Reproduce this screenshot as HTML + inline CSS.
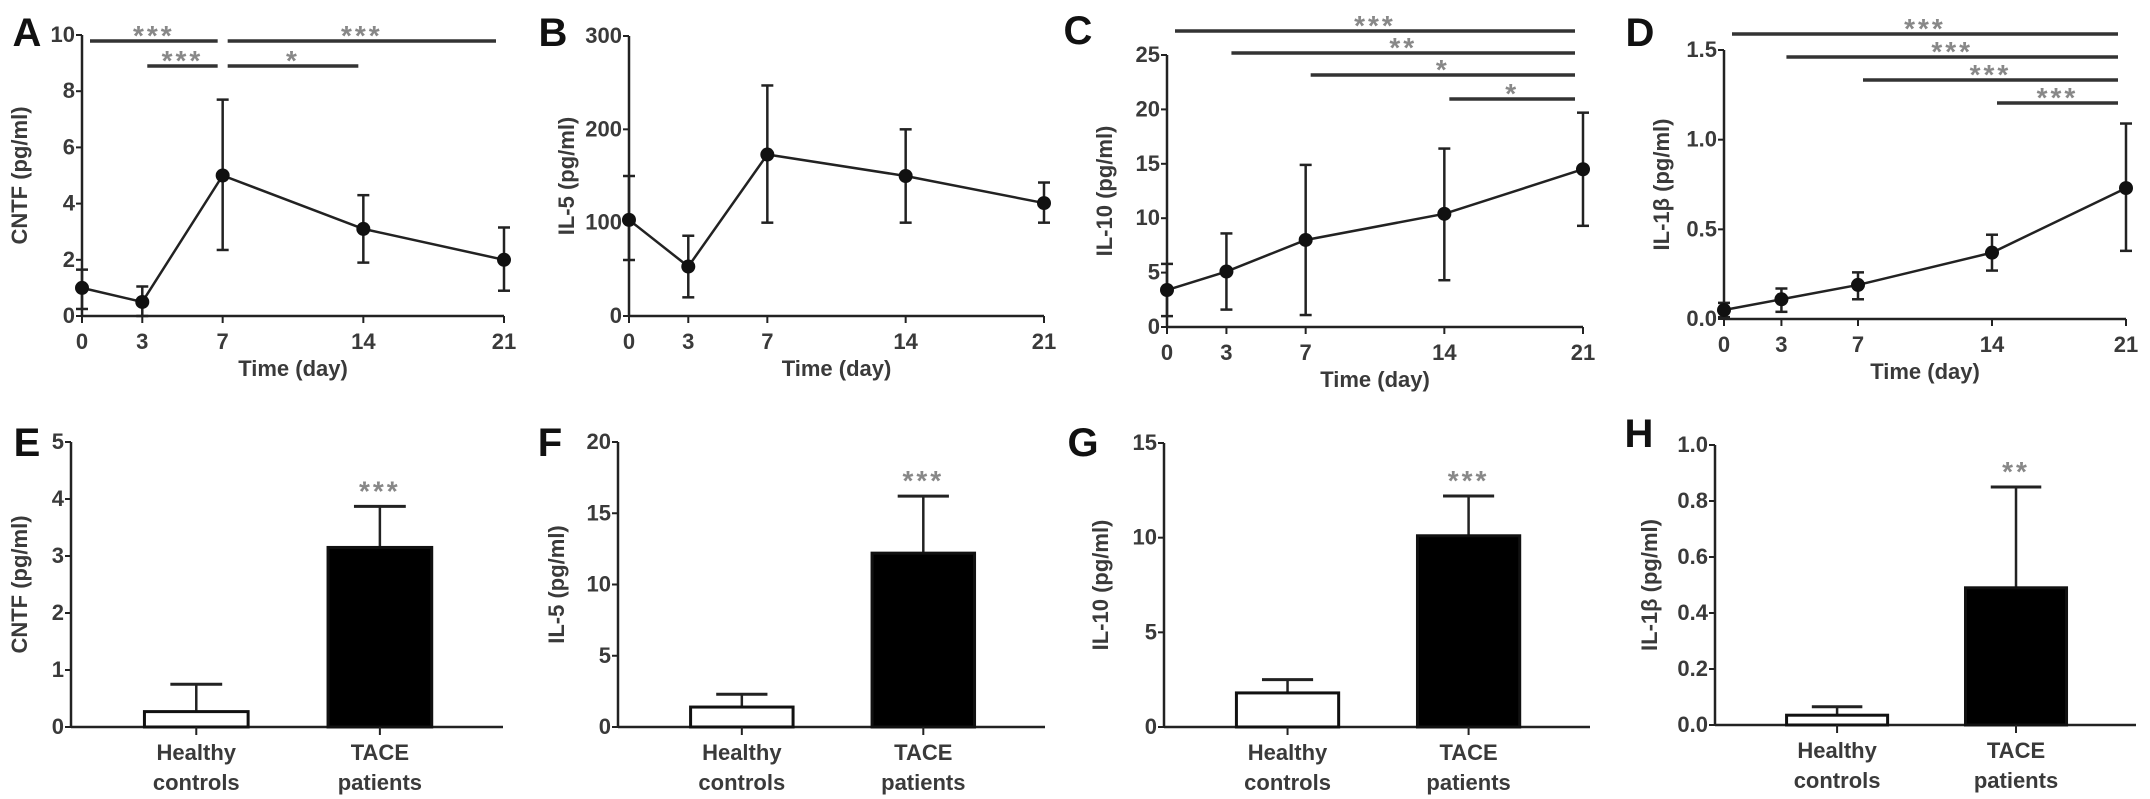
<!DOCTYPE html>
<html><head><meta charset="utf-8"><style>
body{margin:0;background:#fff}
svg{display:block}
text{font-family:"Liberation Sans",sans-serif}
.tk{font-size:22px;fill:#3a3a3a;font-weight:bold}
.tt{font-size:22px;fill:#3a3a3a;font-weight:bold}
.lt{font-size:40px;fill:#111;font-weight:bold}
.st{font-size:28px;fill:#888;font-weight:bold;letter-spacing:3px}
</style></head><body>
<svg id="fig" width="2150" height="799" viewBox="0 0 2150 799"></svg>
<script>
// ---- data ----
const days=[0,3,7,14,21];
const aMean=[1.0,0.5,5.0,3.1,2.0], aLo=[0.25,0.0,2.35,1.9,0.9], aHi=[1.65,1.05,7.7,4.3,3.15];
const bMean=[103,53,173,150,121], bLo=[60,20,100,100,100], bHi=[150,86,247,200,143];
const cMean=[3.4,5.1,8.0,10.4,14.5], cLo=[1.0,1.6,1.1,4.3,9.3], cHi=[5.8,8.6,14.9,16.4,19.7];
const dMean=[0.05,0.11,0.19,0.37,0.73], dLo=[0.01,0.04,0.11,0.27,0.38], dHi=[0.09,0.17,0.26,0.47,1.09];
const aTicks=[0,2,4,6,8,10], bTicks=[0,100,200,300], cTicks=[0,5,10,15,20,25], dTicks=["0.0","0.5","1.0","1.5"];
const groups=["Healthy|controls","TACE|patients"];
const eVals=[0.27,3.15], eErr=[0.75,3.87], eTicks=[0,1,2,3,4,5];
const fVals=[1.4,12.2], fErr=[2.3,16.2], fTicks=[0,5,10,15,20];
const gVals=[1.8,10.1], gErr=[2.5,12.2], gTicks=[0,5,10,15];
const hVals=[0.035,0.49], hErr=[0.065,0.85], hTicks=["0.0","0.2","0.4","0.6","0.8","1.0"];
const hStars=["***","***","***","**"];
const aSig=[[0,7,"***",0],[7,21,"***",0],[3,7,"***",1],[7,14,"*",1]];
const cSig=[[0,21,"***",0],[3,21,"**",1],[7,21,"*",2],[14,21,"*",3]];
const dSig=[[0,21,"***",0],[3,21,"***",1],[7,21,"***",2],[14,21,"***",3]];

const svg=document.getElementById('fig');
const NS="http://www.w3.org/2000/svg";
function mk(t,a,txt){const e=document.createElementNS(NS,t);for(const k in a)e.setAttribute(k,a[k]);if(txt!==undefined)e.textContent=txt;svg.appendChild(e);return e;}
function line(x1,y1,x2,y2,w,c){return mk('line',{x1,y1,x2,y2,stroke:c||'#222','stroke-width':w||2.5});}

function linePanel(p){
  const yMax=p.ticks[p.ticks.length-1]*1;
  const X=d=>p.x0+(p.x1-p.x0)*d/21;
  const Y=v=>p.y0-(p.y0-p.yT)*v/yMax;
  const ax=line(p.x0,p.yT,p.x0,p.y0);
  const bx=line(p.x0,p.y0,p.x1,p.y0);
  p.ticks.forEach(t=>{const y=Y(t*1);line(p.x0-6,y,p.x0,y,2);
    const e=mk('text',{x:p.x0-7,y:y+7,'text-anchor':'end',class:'tk'},t);});
  days.forEach(d=>{const x=X(d);line(x,p.y0,x,p.y0+7,2);
    const e=mk('text',{x:x,y:p.y0+33,'text-anchor':'middle',class:'tk'},d);});
  const xt=mk('text',{x:(p.x0+p.x1)/2,y:p.y0+60,'text-anchor':'middle',class:'tt'},'Time (day)');
  
  const cy=(p.y0+p.yT)/2, lx=p.x0-55;
  const yt=mk('text',{x:lx,y:cy,'text-anchor':'middle',class:'tt',transform:`rotate(-90 ${lx} ${cy})`},p.label);
  
  const lt=mk('text',{x:p.lx,y:p.ly,'text-anchor':'middle',class:'lt'},p.letter);
  
  days.forEach((d,i)=>{const x=X(d);line(x,Y(p.lo[i]),x,Y(p.hi[i]),2.5);line(x-6,Y(p.lo[i]),x+6,Y(p.lo[i]),2.5);line(x-6,Y(p.hi[i]),x+6,Y(p.hi[i]),2.5);});
  const pl=mk('polyline',{points:days.map((d,i)=>X(d)+','+Y(p.mean[i])).join(' '),fill:'none',stroke:'#222','stroke-width':2.5});
  
  days.forEach((d,i)=>{const c=mk('circle',{cx:X(d),cy:Y(p.mean[i]),r:7,fill:'#111'});
    });
  p.sig.forEach(s=>{const y=p.sigY[s[3]];const xa=X(s[0])+(s[0]===0?8:5),xb=X(s[1])-(s[1]===21?8:5);
    const l=line(xa,y,xb,y,3.5,'#333');
    const t=mk('text',{x:(xa+xb)/2,y:y+4,'text-anchor':'middle',class:'st'},s[2]);});
}

function barPanel(p){
  const yMax=p.ticks[p.ticks.length-1]*1;
  const Y=v=>p.y0-(p.y0-p.yT)*v/yMax;
  const ax=line(p.x0,p.yT,p.x0,p.y0);
  const bx=line(p.x0,p.y0,p.x1,p.y0);
  p.ticks.forEach(t=>{const y=Y(t*1);line(p.x0-6,y,p.x0,y,2);
    const e=mk('text',{x:p.x0-7,y:y+7,'text-anchor':'end',class:'tk'},t);});
  const cy=(p.y0+p.yT)/2, lx=p.x0-(p.ylOff||48);
  const yt=mk('text',{x:lx,y:cy,'text-anchor':'middle',class:'tt',transform:`rotate(-90 ${lx} ${cy})`},p.label);
  
  const lt=mk('text',{x:p.lx,y:p.ly,'text-anchor':'middle',class:'lt'},p.letter);
  
  const W=p.x1-p.x0, bw=W*0.24;
  p.vals.forEach((v,i)=>{const cx=p.x0+W*(i===0?0.29:0.715);
    line(cx,Y(v),cx,Y(p.err[i]),2.5);line(cx-bw*0.25,Y(p.err[i]),cx+bw*0.25,Y(p.err[i]),3);
    const r=mk('rect',{x:cx-bw/2,y:Y(v),width:bw,height:p.y0-Y(v),fill:i?'#000':'#fff',stroke:'#111','stroke-width':3});
    
    line(cx,p.y0,cx,p.y0+8,2);
    const lines=groups[i].split('|');
    lines.forEach((s,j)=>{const e=mk('text',{x:cx,y:p.y0+33+j*30,'text-anchor':'middle',class:'tk'},s);});
    if(i===1){const t=mk('text',{x:cx,y:Y(p.err[i])-6,'text-anchor':'middle',class:'st'},p.star);}
  });
}

linePanel({id:'panel-a',letter:'A',lx:27,ly:46,x0:82,x1:504,y0:316,yT:35,ticks:aTicks,mean:aMean,lo:aLo,hi:aHi,label:'CNTF (pg/ml)',sig:aSig,sigY:[41,66]});
linePanel({id:'panel-b',letter:'B',lx:553,ly:46,x0:629,x1:1044,y0:316,yT:36,ticks:bTicks,mean:bMean,lo:bLo,hi:bHi,label:'IL-5 (pg/ml)',sig:[],sigY:[]});
linePanel({id:'panel-c',letter:'C',lx:1078,ly:44,x0:1167,x1:1583,y0:327,yT:55,ticks:cTicks,mean:cMean,lo:cLo,hi:cHi,label:'IL-10 (pg/ml)',sig:cSig,sigY:[31,53,75,99]});
linePanel({id:'panel-d',letter:'D',lx:1640,ly:46,x0:1724,x1:2126,y0:319,yT:50,ticks:dTicks,mean:dMean,lo:dLo,hi:dHi,label:'IL-1β (pg/ml)',sig:dSig,sigY:[34,57,80,103]});

barPanel({id:'panel-e',letter:'E',lx:27,ly:456,x0:71,x1:503,y0:727,yT:442,ticks:eTicks,vals:eVals,err:eErr,label:'CNTF (pg/ml)',star:'***',ylOff:44});
barPanel({id:'panel-f',letter:'F',lx:550,ly:456,x0:618,x1:1045,y0:727,yT:442,ticks:fTicks,vals:fVals,err:fErr,label:'IL-5 (pg/ml)',star:'***',ylOff:54});
barPanel({id:'panel-g',letter:'G',lx:1083,ly:456,x0:1164,x1:1590,y0:727,yT:443,ticks:gTicks,vals:gVals,err:gErr,label:'IL-10 (pg/ml)',star:'***',ylOff:56});
barPanel({id:'panel-h',letter:'H',lx:1639,ly:447,x0:1715,x1:2136,y0:725,yT:445,ticks:hTicks,vals:hVals,err:hErr,label:'IL-1β (pg/ml)',star:hStars[3],ylOff:58});
</script>
</body></html>
